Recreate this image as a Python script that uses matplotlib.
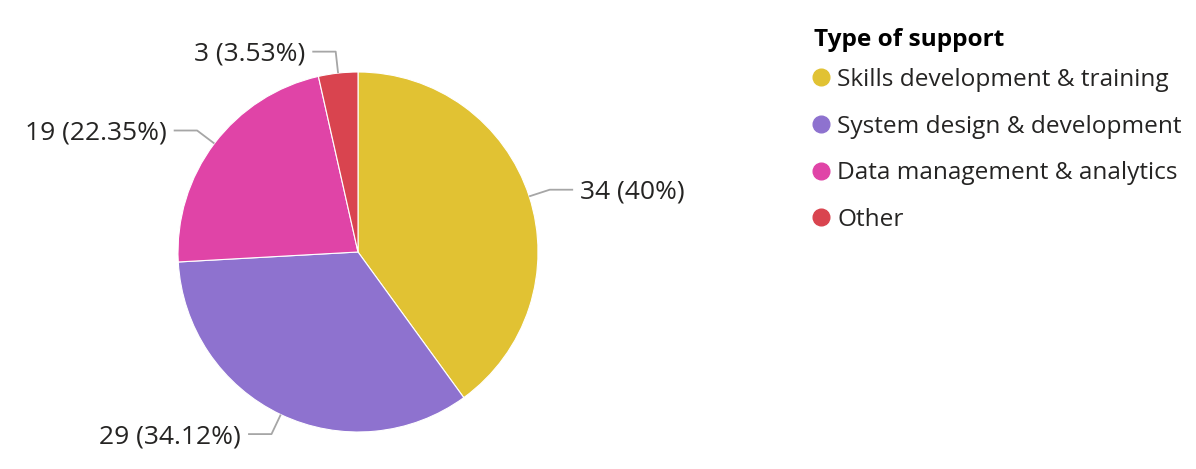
import numpy as np
import matplotlib
matplotlib.use("Agg")
import matplotlib.pyplot as plt
from matplotlib.lines import Line2D

categories = ["Skills development & training", "System design & development",
              "Data management & analytics", "Other"]
counts = [34, 29, 19, 3]
pct_labels = ["40%", "34.12%", "22.35%", "3.53%"]
colors = ["#E1C233", "#8E72CF", "#E044A7", "#D9444F"]
legend_title = "Type of support"

plt.rcParams['font.family'] = ['Open Sans', 'DejaVu Sans']
TEXT = "#252423"
FS_LBL = 19
FS_LEG = 17.6

W, H = 1196, 469
fig = plt.figure(figsize=(W / 100, H / 100), dpi=100)
cx, cy, R = 358, 252, 180
ax = fig.add_axes([(cx - R) / W, (H - cy - R) / H, 2 * R / W, 2 * R / H])
wedges, _ = ax.pie(counts, colors=colors, startangle=90, counterclock=False,
                   radius=1, wedgeprops=dict(linewidth=0.8, edgecolor="white"))
ax.set_xlim(-1, 1)
ax.set_ylim(-1, 1)
ax.set_aspect('equal')
ax.axis('off')

for w, c, p in zip(wedges, counts, pct_labels):
    ang = np.deg2rad((w.theta1 + w.theta2) / 2)
    x0, y0 = np.cos(ang), np.sin(ang)
    xe, ye = 1.12 * x0, 1.12 * y0
    side = 1 if x0 >= 0 else -1
    xh = xe + side * 0.13
    ax.plot([x0, xe, xh], [y0, ye, ye], color="#A6A6A6", lw=1.3,
            clip_on=False, solid_capstyle='butt')
    ax.text(xh + side * 0.04, ye - 0.015, f"{c} ({p})", ha='left' if side > 0 else 'right',
            va='center', fontsize=FS_LBL, color=TEXT, clip_on=False)

handles = [Line2D([], [], marker='o', linestyle='none', markersize=12,
                  markerfacecolor=col, markeredgecolor=col) for col in colors]
leg = fig.legend(handles, categories, title=legend_title, loc='upper left',
                 bbox_to_anchor=(814 / W, 1 - 28 / H), frameon=False,
                 fontsize=FS_LEG, title_fontsize=FS_LEG, alignment='left',
                 handlelength=0.6, handletextpad=0.35, labelspacing=0.93,
                 borderaxespad=0, borderpad=0)
leg._legend_box.sep = 11.4
leg.get_title().set_fontweight('bold')
leg.get_title().set_color("black")
for t in leg.get_texts():
    t.set_color(TEXT)

fig.savefig("out.png", dpi=100)
